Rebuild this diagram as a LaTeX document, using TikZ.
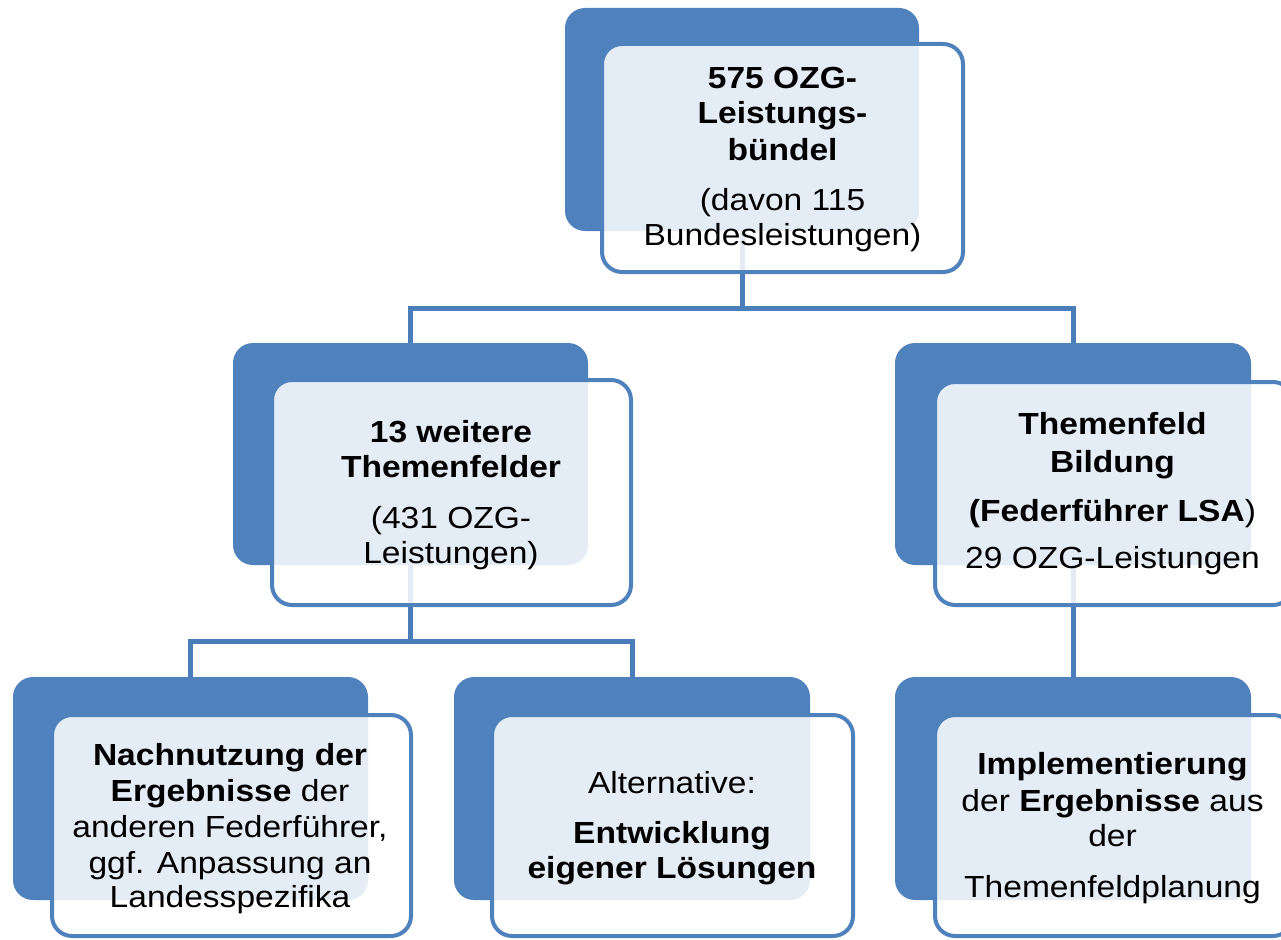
\documentclass[tikz,border=0pt]{standalone}
\usepackage{fontspec}
\setmainfont{Liberation Sans}[FakeStretch=1.1]
\definecolor{boxblue}{RGB}{79,129,189}
\definecolor{lineblue}{RGB}{74,125,186}
\begin{document}
\begin{tikzpicture}[x=1pt,y=-1pt,
  backbox/.style={rectangle, rounded corners=20pt, fill=boxblue, inner sep=0pt, outer sep=0pt},
  frontbox/.style={rectangle, rounded corners=20pt, draw=boxblue, line width=4pt, fill=white, fill opacity=0.85, inner sep=0pt, outer sep=0pt},
  conn/.style={draw=lineblue, line width=5pt},
  txt/.style={anchor=base, inner sep=0pt, outer sep=0pt, font=\fontsize{30.5}{36}\selectfont}]
\useasboundingbox (0,0) rectangle (1281,939);

% back boxes
\node[backbox, minimum width=354pt, minimum height=223pt] (b1) at (742,119.5) {};
\node[backbox, minimum width=355pt, minimum height=222pt] (b2) at (410.5,454) {};
\node[backbox, minimum width=356pt, minimum height=222pt] (b3) at (1073,454) {};
\node[backbox, minimum width=355pt, minimum height=223pt] (b4) at (190.5,788.5) {};
\node[backbox, minimum width=356pt, minimum height=223pt] (b5) at (632,788.5) {};
\node[backbox, minimum width=356pt, minimum height=223pt] (b6) at (1073,788.5) {};

% connectors
\coordinate (j1) at (742,308);
\coordinate (j2) at (410.5,641);
\draw[conn] (b1.south) -- (j1) -| (b2.north);
\draw[conn] (j1) -| (b3.north);
\draw[conn] (b2.south) -- (j2) -| (b4.north);
\draw[conn] (j2) -| (b5.north);
\draw[conn] (b3.south) -- (b6.north);

% front boxes
\node[frontbox, minimum width=361pt, minimum height=228pt] (f1) at (782.5,158) {};
\node[frontbox, minimum width=359pt, minimum height=225pt] (f2) at (451.5,492.5) {};
\node[frontbox, minimum width=358pt, minimum height=223pt] (f3) at (1114,493.5) {};
\node[frontbox, minimum width=359pt, minimum height=221pt] (f4) at (231.5,825.5) {};
\node[frontbox, minimum width=361pt, minimum height=221pt] (f5) at (672.5,825.5) {};
\node[frontbox, minimum width=358pt, minimum height=221pt] (f6) at (1114,825.5) {};

% texts: top
\node[txt] (t1a) at (782.5,89) {\textbf{575 OZG-}};
\node[txt] (t1b) at (782.5,124) {\textbf{Leistungs-}};
\node[txt] (t1c) at (782.5,160) {\textbf{bündel}};
\node[txt] (t1d) at (782.5,210) {(davon 115};
\node[txt] (t1e) at (782.5,245) {Bundesleistungen)};
% middle left
\node[txt] (t2a) at (451,442) {\textbf{13 weitere}};
\node[txt] (t2b) at (451,477) {\textbf{Themenfelder}};
\node[txt] (t2c) at (451,528) {(431 OZG-};
\node[txt] (t2d) at (451,563) {Leistungen)};
% middle right
\node[txt] (t3a) at (1112.5,434) {\textbf{Themenfeld}};
\node[txt] (t3b) at (1112.5,472) {\textbf{Bildung}};
\node[txt] (t3c) at (1112.5,521) {\textbf{(Federführer LSA})};
\node[txt] (t3d) at (1112.5,568) {29 OZG-Leistungen};
% bottom left
\node[txt] (t4a) at (230,765) {\textbf{Nachnutzung der}};
\node[txt] (t4b) at (230,801) {\textbf{Ergebnisse} der};
\node[txt] (t4c) at (230,837) {anderen Federführer,};
\node[txt] (t4d) at (230,873) {ggf. Anpassung an};
\node[txt] (t4e) at (230,907) {Landesspezifika};
% bottom middle
\node[txt] (t5a) at (672,793) {Alternative:};
\node[txt] (t5b) at (672,843) {\textbf{Entwicklung}};
\node[txt] (t5c) at (672,878) {\textbf{eigener Lösungen}};
% bottom right
\node[txt] (t6a) at (1112.5,774) {\textbf{Implementierung}};
\node[txt] (t6b) at (1112.5,811) {der \textbf{Ergebnisse} aus};
\node[txt] (t6c) at (1112.5,846) {der};
\node[txt] (t6d) at (1112.5,897) {Themenfeldplanung};
\end{tikzpicture}
\end{document}
